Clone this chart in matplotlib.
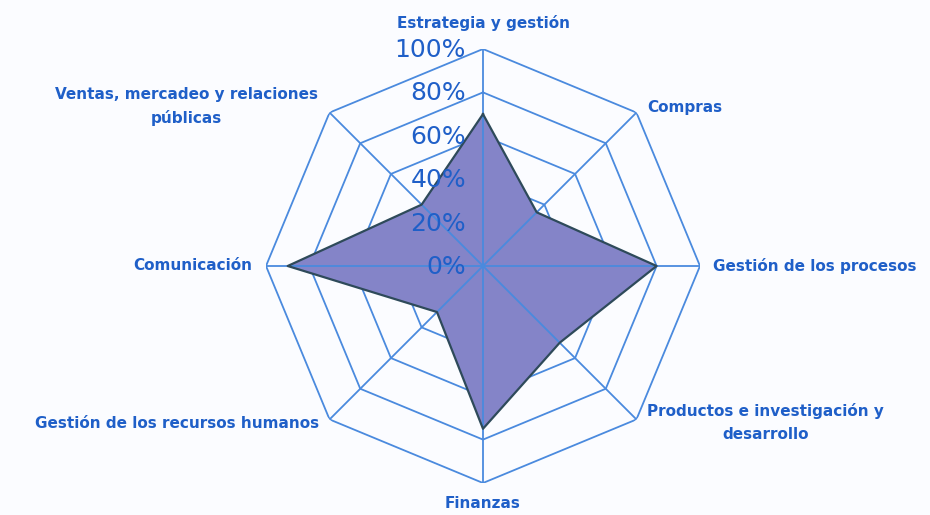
import numpy as np
import matplotlib
matplotlib.use("Agg")
import matplotlib.pyplot as plt
from matplotlib.transforms import offset_copy

categories = [
    "Estrategia y gestión",
    "Compras",
    "Gestión de los procesos",
    "Productos e investigación y\ndesarrollo",
    "Finanzas",
    "Gestión de los recursos humanos",
    "Comunicación",
    "Ventas, mercadeo y relaciones\npúblicas",
]
values = [70, 35, 80, 50, 75, 30, 90, 40]
tick_values = [0, 20, 40, 60, 80, 100]
tick_labels = ["0%", "20%", "40%", "60%", "80%", "100%"]

GRID = "#4a8ade"
TEXT = "#1f5fc8"
FILL = "#8484c8"
EDGE = "#2e4a5a"

plt.rcParams['font.family'] = ['DejaVu Sans']

fig = plt.figure(figsize=(9.3, 5.15), dpi=100, facecolor="#fbfcff")
R = 217
cx, cy = 483, 515 - 266
ax = fig.add_axes([(cx - R) / 930, (cy - R) / 515, 2 * R / 930, 2 * R / 515],
                  projection="polar")
ax.set_facecolor("none")
ax.set_theta_zero_location("N")
ax.set_theta_direction(-1)
ax.set_ylim(0, 100)
ax.grid(False)
ax.set_xticks([])
ax.set_yticks([])
ax.spines["polar"].set_visible(False)

n = len(categories)
theta = np.linspace(0, 2 * np.pi, n, endpoint=False)
theta_c = np.append(theta, theta[0])

# rings
for tv in tick_values[1:]:
    ax.plot(theta_c, [tv] * (n + 1), color=GRID, lw=1.3, zorder=1)

# data polygon
vals_c = values + values[:1]
ax.fill(theta_c, vals_c, color=FILL, zorder=2, lw=0)
ax.plot(theta_c, vals_c, color=EDGE, lw=1.6, zorder=4)

# spokes
for t in theta:
    ax.plot([t, t], [0, 100], color=GRID, lw=1.3, zorder=3)

# tick labels
tr_tick = offset_copy(ax.transData, fig=fig, x=-17, y=-1, units="dots")
for tv, tl in zip(tick_values, tick_labels):
    ax.text(0, tv, tl, transform=tr_tick, ha="right", va="center",
            fontsize=18, color=TEXT, zorder=5)

# category labels: (dx, dy, ha)
offsets = [
    (0, 26, "center"),
    (11, 5, "left"),
    (13, 0, "left"),
    (11, -3, "left"),
    (0, -21, "center"),
    (-10, -4, "right"),
    (-14, 0, "right"),
    (-12, 6, "right"),
]
for t, lab, (dx, dy, ha) in zip(theta, categories, offsets):
    tr = offset_copy(ax.transData, fig=fig, x=dx, y=dy, units="dots")
    ax.text(t, 100, lab, transform=tr, ha=ha, va="center", multialignment="center",
            fontsize=11, fontweight="bold", color=TEXT, zorder=5, linespacing=1.6)

fig.savefig("out.png", dpi=100, facecolor=fig.get_facecolor())
